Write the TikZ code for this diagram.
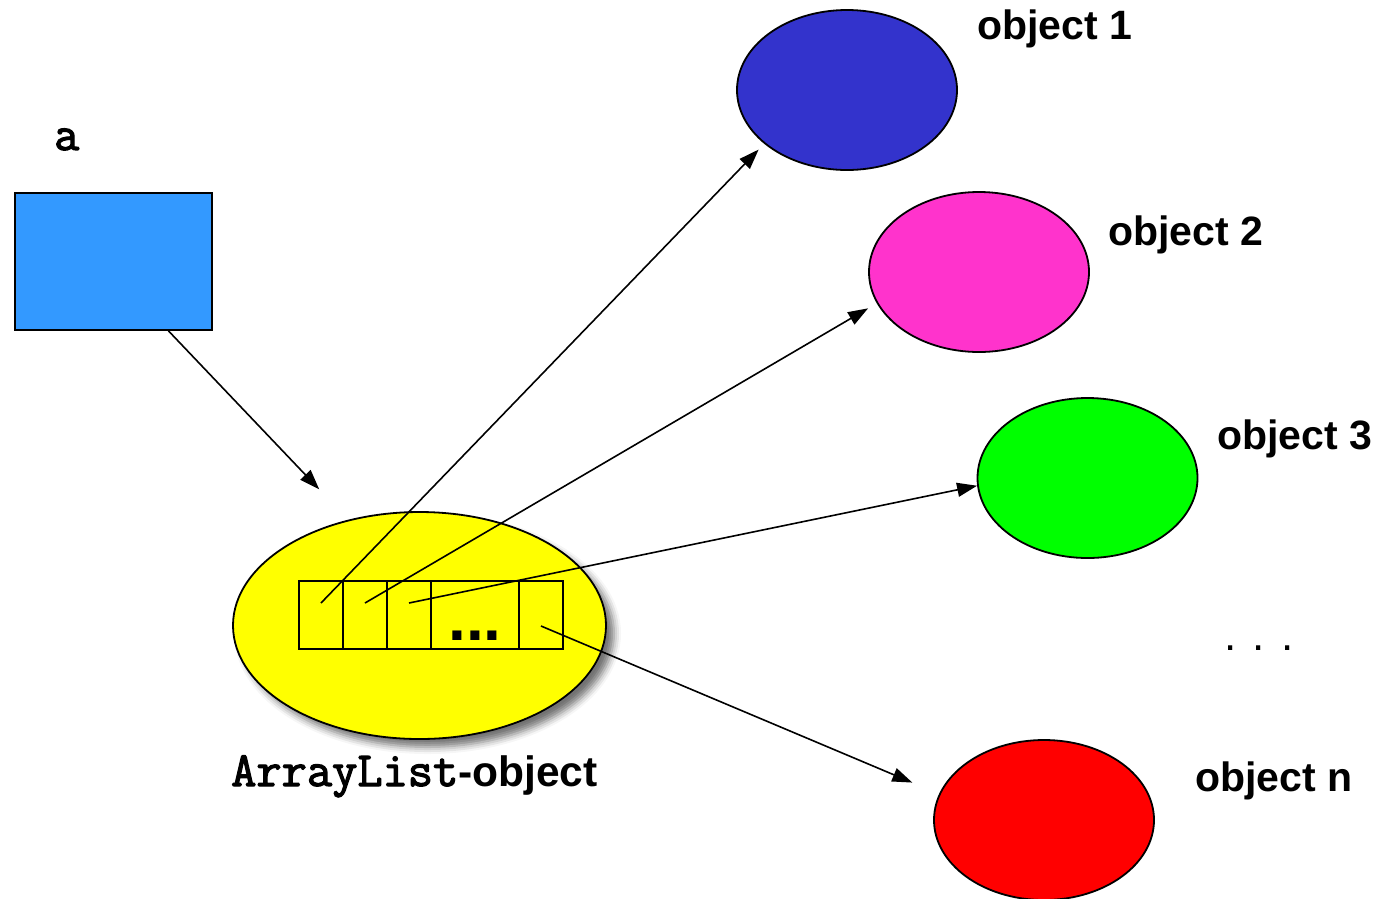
\documentclass[tikz,border=0pt]{standalone}
\usepackage{fontspec}
\setmainfont{Liberation Sans}
\newfontfamily\codefont{Latin Modern Mono}[AutoFakeBold=2.5]
\usetikzlibrary{matrix,positioning,shapes.geometric,arrows.meta,shadows.blur}

\definecolor{boxblue}{HTML}{3399FF}
\definecolor{objblue}{HTML}{3333CC}
\definecolor{objpink}{HTML}{FF33CC}
\definecolor{objgreen}{HTML}{00FF00}
\definecolor{objred}{HTML}{FF0000}
\definecolor{listyellow}{HTML}{FFFF00}

\begin{document}
\begin{tikzpicture}[x=1pt,y=-1pt]
	\useasboundingbox (0,0) rectangle (1383,898);
	
	\tikzset{obj/.style={ellipse, draw, line width=1.8pt,
			minimum width=220pt, minimum height=160pt, inner sep=0pt},
		objlabel/.style={anchor=base west, inner sep=0pt,
			font=\bfseries\fontsize{41}{49}\selectfont},
		ref/.style={-{Triangle[length=20pt,width=14pt]}, line width=1.6pt},
		cell matrix/.style={
			matrix of nodes, nodes in empty cells,
			line width=1.8pt,
			column sep=-\pgflinewidth, row sep=-\pgflinewidth,
			nodes={draw,
				line width=1.8pt,
				minimum height=68pt,
				text width=#1,
				text height=50pt,
				text depth=0pt,
				align=center,
				inner sep=0pt
			},
		},
		cell matrix/.default=44pt
	}
	
	% variable a
	\node[anchor=base west, inner sep=0pt,
		font=\codefont\bfseries\fontsize{48.7}{52}\selectfont] (alabel) at (54,150) {a};
	\node[draw, fill=boxblue, line width=1.8pt, minimum width=197pt,
		minimum height=137pt, inner sep=0pt] (abox) at (113.5,261.5) {};
	
	% the list
	\node[ellipse, draw, fill=listyellow, line width=1.8pt, minimum width=373pt,
		minimum height=227pt, inner sep=0pt,
		blur shadow={shadow xshift=8pt, shadow yshift=-8pt,
			shadow blur radius=7pt, shadow opacity=55}] (alist) at (419.5,625.5) {};
	\matrix (list) [cell matrix] at (431,615)
	{
		& & & |[text width=88pt, font=\bfseries\fontsize{64}{70}\selectfont]| ... & \\
	};
	\node[anchor=base west, inner sep=0pt,
		font=\bfseries\fontsize{42.5}{50}\selectfont] (listlabel) at (231,786)
		{{\codefont\fontsize{49}{52}\selectfont ArrayList}-object};
	
	% objects
	\node[obj, fill=objblue] (obj1) at (847,90) {};
	\node[obj, fill=objpink] (obj2) at (979,272) {};
	\node[obj, fill=objgreen] (obj3) at (1087.5,478) {};
	\node[obj, fill=objred] (objn) at (1044,820) {};
	\node[objlabel] (lab1) at (977,39) {object 1};
	\node[objlabel] (lab2) at (1108,245) {object 2};
	\node[objlabel] (lab3) at (1217,449) {object 3};
	\node[objlabel] (labn) at (1195,791) {object n};
	\node[anchor=base west, inner sep=0pt, font=\fontsize{44}{50}\selectfont]
		(more) at (1224,650.5) {. . .};
	
	% references
	\draw[ref, shorten >=42pt] ([xshift=55pt]abox.south) -- (alist.124);
	\draw[ref, shorten >=8pt] ([yshift=12pt]list-1-1.center) -- (obj1.213);
	\draw[ref, shorten >=10pt] ([yshift=12pt]list-1-2.center) -- (obj2.197.5);
	\draw[ref] ([yshift=12pt]list-1-3.center) -- (obj3.184.7);
	\draw[ref, shorten >=29pt] ([yshift=-11pt]list-1-5.center) -- (objn.166);
	
\end{tikzpicture}
\end{document}
